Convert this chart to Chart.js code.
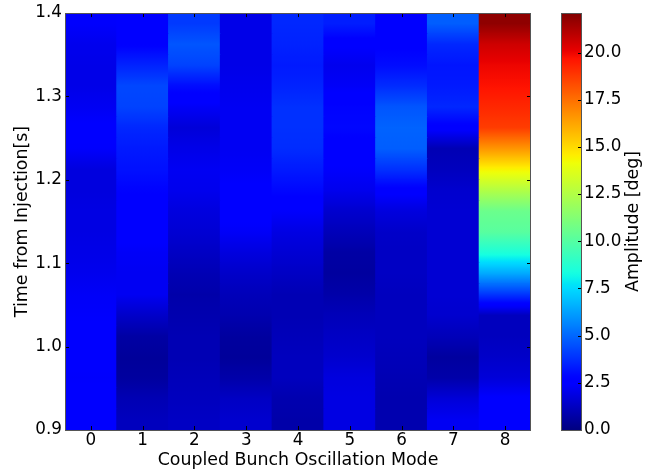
<!DOCTYPE html>
<html><head><meta charset="utf-8">
<script src="https://cdn.jsdelivr.net/npm/chart.js@4.4.1/dist/chart.umd.min.js"></script>
<style>
html,body{margin:0;padding:0;background:#fff;}
#wrap{position:relative;width:655px;height:474px;background:#fff;}
canvas{position:absolute;left:0;top:0;}
</style></head><body>
<div id="wrap"><canvas id="main" width="655" height="474"></canvas><canvas id="cbar" width="655" height="474"></canvas></div>
<script>
// ---- data ----
const modes = ['0','1','2','3','4','5','6','7','8'];
// row centre times [s], bottom to top
const rowTimes = [0.9125,0.9375,0.9625,0.9875,1.0125,1.0375,1.0625,1.0875,1.1125,1.1375,
                  1.1625,1.1875,1.2125,1.2375,1.2625,1.2875,1.3125,1.3375,1.3625,1.3875];
const rowHalf = 0.0125;
const yTicks = [0.9,1.0,1.1,1.2,1.3,1.4];
const cbTicks = [0,2.5,5,7.5,10,12.5,15,17.5,20];
const cbMax = 22.1;
// amplitude [deg] per mode, bottom (0.9 s) to top (1.4 s)
const amp0 = [2.5,2.5,2.4,2.5,2.5,2.4,2.3,2.1,2.0,1.9,1.9,1.8,1.8,2.4,2.5,2.2,2.0,2.0,2.1,2.4];
const amp1 = [1.2,1.0,0.6,0.5,0.7,1.4,2.2,2.2,2.3,2.6,2.6,2.8,3.1,3.3,3.6,4.2,4.3,3.5,2.7,2.5];
const amp2 = [1.3,1.2,1.1,1.0,1.0,0.9,0.8,1.0,1.3,1.6,1.8,2.1,2.2,2.0,1.7,2.3,3.0,4.2,4.6,4.0];
const amp3 = [1.5,1.3,0.8,0.5,0.6,0.9,1.1,1.4,1.8,2.3,2.6,2.5,2.3,2.2,2.2,2.2,2.1,2.0,2.0,2.0];
const amp4 = [0.8,0.9,1.2,1.2,1.1,1.0,1.0,1.3,1.6,1.9,2.4,2.9,3.3,3.7,3.8,3.8,3.5,3.3,3.5,3.6];
const amp5 = [1.9,1.9,1.8,1.5,1.3,1.1,0.8,0.6,0.7,1.1,1.5,2.1,2.4,2.6,2.9,2.8,2.3,2.1,2.5,3.4];
const amp6 = [0.9,0.9,1.0,1.1,1.2,1.2,1.2,1.3,1.3,1.4,1.8,2.6,3.8,4.8,4.9,4.6,3.7,3.0,2.7,2.6];
const amp7 = [2.2,1.7,0.8,0.6,1.1,1.5,1.6,1.6,1.6,1.6,1.6,1.5,1.2,1.0,2.6,3.6,3.3,3.2,3.6,4.8];
const amp8 = [2.6,2.5,1.7,1.4,1.2,1.2,3.9,6.4,8.5,10.1,10.6,12.5,14.4,16.6,18.7,19.2,19.7,20.0,20.6,21.8];
const amps = [amp0,amp1,amp2,amp3,amp4,amp5,amp6,amp7,amp8];

// ---- style ----
const FAMILY = "'DejaVu Sans', sans-serif";
const TICKFONT = {family:FAMILY, size:16.8};
const TITLEFONT = {family:FAMILY, size:17.4};
Chart.defaults.font.family = FAMILY;
Chart.defaults.color = '#000';

function interp(x, pts){
  if (x <= pts[0][0]) return pts[0][1];
  for (let i=1;i<pts.length;i++){
    if (x <= pts[i][0]){
      const [x0,y0]=pts[i-1],[x1,y1]=pts[i];
      return y0 + (y1-y0)*(x-x0)/(x1-x0);
    }
  }
  return pts[pts.length-1][1];
}
function jetColor(x){
  x = Math.max(0, Math.min(1, x));
  const r = interp(x, [[0,0],[0.35,0],[0.66,1],[0.89,1],[1,0.5]]);
  const g = interp(x, [[0,0],[0.125,0],[0.375,1],[0.64,1],[0.91,0],[1,0]]);
  const b = interp(x, [[0,0.5],[0.11,1],[0.34,1],[0.65,0],[1,0]]);
  return 'rgb('+Math.round(r*255)+','+Math.round(g*255)+','+Math.round(b*255)+')';
}
function cellFill(c){
  const chart = c.chart, k = c.datasetIndex, m = c.dataIndex, v = amps[m];
  if (!v) return '#00f';
  const ys = chart.scales.y;
  if (!ys || !chart.chartArea) return jetColor(v[k]/cbMax);
  const t = rowTimes[k];
  const y0 = ys.getPixelForValue(t-rowHalf), y1 = ys.getPixelForValue(t+rowHalf);
  const lo = k>0 ? (v[k-1]+v[k])/2 : v[k];
  const hi = k<v.length-1 ? (v[k]+v[k+1])/2 : v[k];
  const g = chart.ctx.createLinearGradient(0, y0, 0, y1);
  for (let i=0;i<=10;i++){
    const p = i/10;
    const val = p<=0.5 ? lo+(v[k]-lo)*p*2 : v[k]+(hi-v[k])*(p-0.5)*2;
    g.addColorStop(p, jetColor(val/cbMax));
  }
  return g;
}

const frameTicks = {
  id:'frameTicks',
  afterDatasetsDraw(chart){
    const {ctx, chartArea:a, scales:{x,y}} = chart;
    ctx.save();
    ctx.strokeStyle = '#000'; ctx.lineWidth = 1;
    ctx.beginPath();
    x.ticks.forEach((t,i)=>{
      const px = Math.round(x.getPixelForTick(i))+0.5;
      ctx.moveTo(px,a.top); ctx.lineTo(px,a.top+4);
      ctx.moveTo(px,a.bottom); ctx.lineTo(px,a.bottom-4);
    });
    y.ticks.forEach(t=>{
      const py = Math.round(y.getPixelForValue(t.value))+0.5;
      ctx.moveTo(a.left,py); ctx.lineTo(a.left+4,py);
      ctx.moveTo(a.right,py); ctx.lineTo(a.right-4,py);
    });
    ctx.stroke();
    ctx.strokeStyle = '#555';
    ctx.strokeRect(Math.round(a.left)+0.5, Math.round(a.top)+0.5, Math.round(a.right-a.left)-1, Math.round(a.bottom-a.top));
    ctx.restore();
  }
};

new Chart(document.getElementById('main'), {
  type:'bar',
  data:{
    labels: modes,
    datasets: rowTimes.map((t,k)=>({
      data: modes.map(()=>[t-rowHalf, t+rowHalf]),
      backgroundColor: cellFill,
      borderWidth:0, grouped:false, barPercentage:1, categoryPercentage:1, inflateAmount:0.5
    }))
  },
  options:{
    responsive:false, animation:false, devicePixelRatio:1, events:[],
    layout:{padding:{left:0, top:13, right:124, bottom:0}},
    plugins:{legend:{display:false}, tooltip:{enabled:false}},
    scales:{
      x:{type:'category', offset:true, grid:{display:false, drawTicks:false}, border:{display:false},
         ticks:{font:TICKFONT, color:'#000', padding:1, maxRotation:0, autoSkip:false},
         title:{display:true, text:'Coupled Bunch Oscillation Mode', font:TITLEFONT, color:'#000', padding:{top:0,bottom:3}},
         afterFit:s=>{s.height=44;}},
      y:{type:'linear', min:0.9, max:1.4, grid:{display:false, drawTicks:false}, border:{display:false},
         ticks:{font:TICKFONT, color:'#000', padding:3, callback:v=>Number(v).toFixed(1)},
         afterBuildTicks:s=>{s.ticks = yTicks.map(v=>({value:v}));},
         title:{display:true, text:'Time from Injection[s]', font:TITLEFONT, color:'#000', padding:{top:12,bottom:0}},
         afterFit:s=>{s.width=65;}}
    }
  },
  plugins:[frameTicks]
});

function cbGradient(c){
  const ch = c.chart, ys = ch.scales.y;
  if (!ch.chartArea || !ys) return '#00f';
  const g = ch.ctx.createLinearGradient(0, ys.getPixelForValue(0), 0, ys.getPixelForValue(cbMax));
  for (let i=0;i<=100;i++) g.addColorStop(i/100, jetColor(i/100));
  return g;
}
const cbDeco = {
  id:'cbDeco',
  afterDatasetsDraw(chart){
    const {ctx, chartArea:a, scales:{y}} = chart;
    ctx.save();
    ctx.strokeStyle = '#000'; ctx.lineWidth = 1;
    ctx.beginPath();
    y.ticks.forEach(t=>{
      const py = Math.round(y.getPixelForValue(t.value))+0.5;
      ctx.moveTo(a.right,py); ctx.lineTo(a.right-4,py);
    });
    ctx.stroke();
    ctx.strokeStyle = '#555';
    ctx.strokeRect(Math.round(a.left)+0.5, Math.round(a.top)+0.5, Math.round(a.right-a.left)-1, Math.round(a.bottom-a.top));
    ctx.translate(633, (a.top+a.bottom)/2);
    ctx.rotate(-Math.PI/2);
    ctx.font = TITLEFONT.size+'px '+FAMILY;
    ctx.fillStyle = '#000'; ctx.textAlign = 'center'; ctx.textBaseline = 'middle';
    ctx.fillText('Amplitude [deg]', 0, 0);
    ctx.restore();
  }
};
new Chart(document.getElementById('cbar'), {
  type:'bar',
  data:{labels:[''], datasets:[{data:[[0,cbMax]], backgroundColor:cbGradient, borderWidth:0, barPercentage:1, categoryPercentage:1, inflateAmount:0}]},
  options:{
    responsive:false, animation:false, devicePixelRatio:1, events:[],
    layout:{padding:{left:561, top:13, right:0, bottom:44}},
    plugins:{legend:{display:false}, tooltip:{enabled:false}},
    scales:{
      x:{display:false, offset:true},
      y:{position:'right', min:0, max:cbMax, grid:{display:false, drawTicks:false}, border:{display:false},
         ticks:{font:TICKFONT, color:'#000', padding:2, callback:v=>Number(v).toFixed(1)},
         afterBuildTicks:s=>{s.ticks = cbTicks.map(v=>({value:v}));},
         afterFit:s=>{s.width=73;}}
    }
  },
  plugins:[cbDeco]
});
</script>
</body></html>
